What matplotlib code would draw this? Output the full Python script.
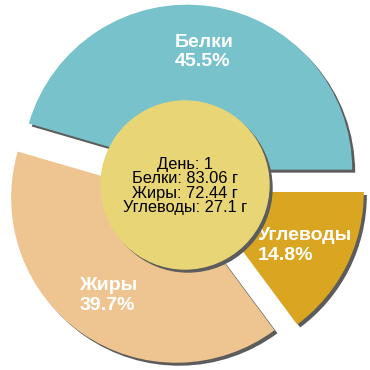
import matplotlib
matplotlib.use('Agg')
import matplotlib.pyplot as plt
from matplotlib.patches import Circle

# data
names = ['Белки', 'Жиры', 'Углеводы']
grams = [83.06, 72.44, 27.1]
percents = ['45.5%', '39.7%', '14.8%']
day = 1

colors = ['#78c3cb', '#eec591', '#daa520']
shadow_color = '#5c5c5c'
hole_color = '#e8d575'

plt.rcParams['font.family'] = ['Liberation Sans', 'DejaVu Sans']

fig = plt.figure(figsize=(3.7, 3.7), dpi=100)
ax = fig.add_axes([0, 0, 1, 1])

R = 165
cx, cy = 185, 185
explode = [15.5] * len(grams)
sh = 3

# shadow under the slices
ax.pie(grams, colors=[shadow_color] * len(grams), startangle=0, radius=R,
       center=(cx + sh, cy - sh), explode=explode, frame=True)

wedges, texts, autotexts = ax.pie(grams, colors=colors, startangle=0, radius=R,
                                  center=(cx, cy), explode=explode, frame=True,
                                  autopct='%1.1f%%', pctdistance=0.72,
                                  textprops={'color': 'white', 'fontsize': 14,
                                             'fontweight': 'bold'})
for t, name, pct in zip(autotexts, names, percents):
    t.set_text(name + '\n' + pct)
    t.set_multialignment('left')
    t.set_linespacing(1.2)

# center circle with its shadow
ax.add_patch(Circle((cx + sh, cy - sh), 84, color=shadow_color, zorder=5))
ax.add_patch(Circle((cx, cy), 84, color=hole_color, zorder=6))

info = 'День: %d\n%s: %s г\n%s: %s г\n%s: %s г' % (
    day, names[0], grams[0], names[1], grams[1], names[2], grams[2])
ax.text(cx, cy - 1, info, ha='center', va='center', fontsize=11.8,
        color='black', linespacing=0.97, zorder=7)

ax.set_xlim(0, 370)
ax.set_ylim(0, 370)
ax.set_aspect('equal')
ax.axis('off')

plt.savefig('out.png', dpi=100, facecolor='white')
